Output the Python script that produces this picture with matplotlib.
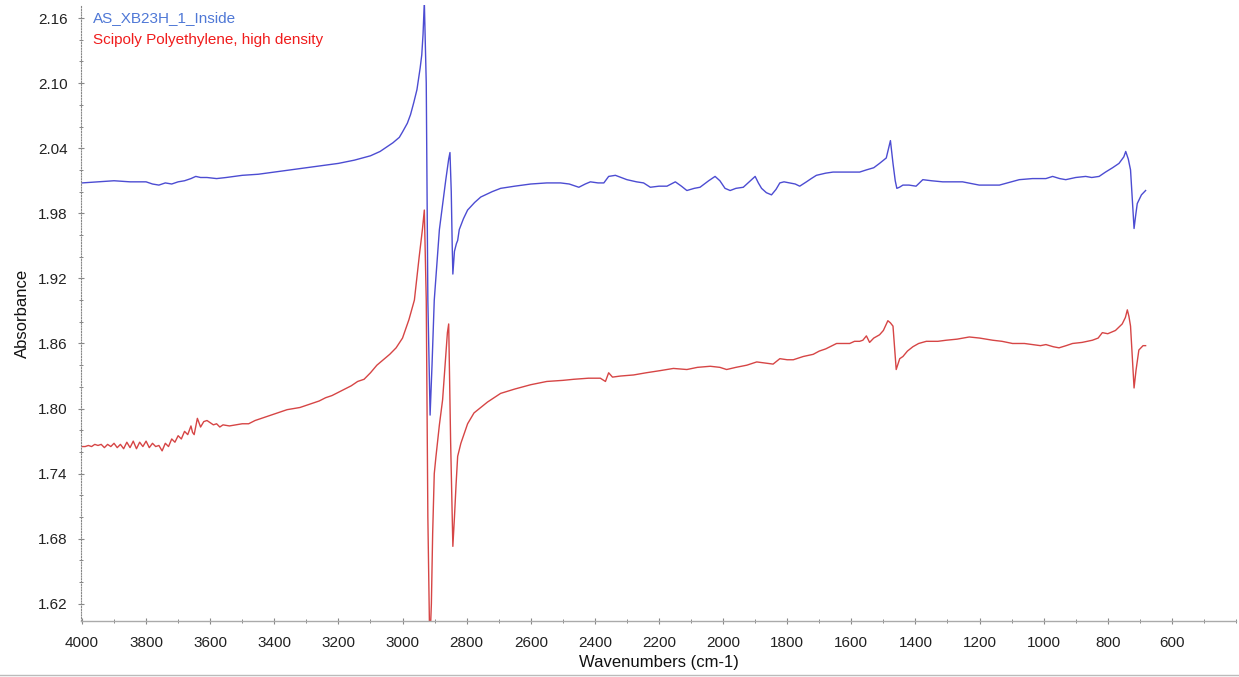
import numpy as np
import matplotlib
matplotlib.use("Agg")
import matplotlib.pyplot as plt
from matplotlib.ticker import MultipleLocator, FixedLocator

plt.rcParams['font.family'] = ['Liberation Sans', 'DejaVu Sans']

# ---------------- data ----------------
series_names = ["AS_XB23H_1_Inside", "Scipoly Polyethylene, high density"]

blue_wn = [4000, 3950, 3900, 3850, 3800, 3780, 3760, 3740, 3720, 3700, 3680, 3660, 3645, 3630,
           3610, 3580, 3550, 3500, 3450, 3400, 3350, 3300, 3250, 3200, 3150, 3100, 3070, 3050,
           3030, 3010, 3000, 2985, 2975, 2965, 2955, 2945, 2940, 2936, 2932, 2926, 2921, 2914,
           2908, 2901, 2885, 2865, 2856, 2852, 2848, 2845, 2843, 2838, 2832, 2828, 2823, 2810,
           2797, 2775, 2756, 2720, 2694, 2650, 2600, 2550, 2507, 2480, 2450, 2430, 2414, 2390,
           2372, 2357, 2336, 2300, 2270, 2248, 2227, 2200, 2175, 2149, 2130, 2113, 2090, 2072,
           2045, 2025, 2010, 1994, 1978, 1960, 1937, 1915, 1900, 1890, 1880, 1865, 1849, 1835,
           1823, 1810, 1792, 1775, 1761, 1740, 1725, 1709, 1680, 1657, 1630, 1595, 1574, 1553,
           1530, 1512, 1491, 1478, 1470, 1463, 1458, 1450, 1439, 1420, 1398, 1377, 1350, 1315,
           1253, 1201, 1170, 1138, 1100, 1076, 1035, 993, 972, 950, 931, 900, 869, 850, 827,
           807, 785, 765, 750, 744, 736, 729, 724, 718, 713, 708, 695, 682]
blue_abs = [2.008, 2.009, 2.010, 2.009, 2.009, 2.007, 2.006, 2.008, 2.007, 2.009, 2.010, 2.012,
            2.014, 2.013, 2.013, 2.012, 2.013, 2.015, 2.016, 2.018, 2.020, 2.022, 2.024, 2.026,
            2.029, 2.033, 2.037, 2.041, 2.045, 2.050, 2.055, 2.063, 2.071, 2.082, 2.094, 2.114,
            2.126, 2.145, 2.175, 2.100, 1.900, 1.794, 1.840, 1.900, 1.965, 2.011, 2.030, 2.036,
            2.000, 1.950, 1.924, 1.945, 1.952, 1.955, 1.965, 1.975, 1.983, 1.990, 1.995, 2.000,
            2.003, 2.005, 2.007, 2.008, 2.008, 2.007, 2.004, 2.007, 2.009, 2.008, 2.008, 2.014,
            2.015, 2.011, 2.009, 2.008, 2.004, 2.005, 2.005, 2.009, 2.005, 2.001, 2.003, 2.004,
            2.010, 2.014, 2.010, 2.003, 2.001, 2.003, 2.004, 2.010, 2.014, 2.008, 2.003, 1.999,
            1.997, 2.002, 2.008, 2.009, 2.008, 2.007, 2.005, 2.009, 2.012, 2.015, 2.017, 2.018,
            2.018, 2.018, 2.018, 2.020, 2.022, 2.026, 2.031, 2.047, 2.026, 2.010, 2.003, 2.004,
            2.006, 2.006, 2.005, 2.011, 2.010, 2.009, 2.009, 2.006, 2.006, 2.006, 2.009, 2.011,
            2.012, 2.012, 2.014, 2.012, 2.011, 2.013, 2.014, 2.013, 2.014, 2.018, 2.022, 2.026,
            2.032, 2.037, 2.030, 2.020, 1.995, 1.966, 1.978, 1.989, 1.997, 2.001]

red_wn = [4000, 3990, 3980, 3970, 3960, 3950, 3940, 3930, 3920, 3910, 3900, 3890, 3880, 3870,
          3860, 3850, 3840, 3830, 3820, 3810, 3800, 3790, 3780, 3770, 3760, 3750, 3740, 3730,
          3720, 3710, 3700, 3690, 3680, 3670, 3660, 3655, 3650, 3640, 3630, 3620, 3610, 3600,
          3590, 3580, 3570, 3560, 3540, 3520, 3500, 3480, 3460, 3440, 3420, 3400, 3380, 3360,
          3340, 3320, 3300, 3280, 3260, 3240, 3220, 3200, 3180, 3160, 3140, 3120, 3100, 3080,
          3060, 3040, 3020, 3000, 2980, 2963, 2948, 2938, 2932, 2926, 2921, 2915, 2910, 2906,
          2901, 2896, 2885, 2875, 2860, 2856, 2850, 2843, 2838, 2833, 2828, 2818, 2797, 2777,
          2735, 2694, 2650, 2600, 2550, 2500, 2466, 2420, 2383, 2367, 2357, 2345, 2320, 2279,
          2240, 2196, 2155, 2113, 2080, 2040, 2010, 1989, 1960, 1926, 1895, 1870, 1844, 1823,
          1800, 1781, 1750, 1719, 1700, 1680, 1660, 1646, 1625, 1605, 1590, 1574, 1564, 1553,
          1543, 1530, 1512, 1500, 1486, 1478, 1470, 1460, 1449, 1439, 1425, 1408, 1390, 1366,
          1330, 1304, 1270, 1232, 1200, 1159, 1130, 1097, 1060, 1035, 1010, 993, 970, 952, 930,
          910, 880, 848, 830, 817, 800, 776, 755, 745, 739, 734, 729, 724, 718, 712, 703, 690, 682]
red_abs = [1.765, 1.765, 1.766, 1.765, 1.767, 1.766, 1.767, 1.764, 1.767, 1.765, 1.768, 1.764,
           1.767, 1.763, 1.769, 1.764, 1.770, 1.763, 1.769, 1.765, 1.770, 1.764, 1.768, 1.765,
           1.766, 1.761, 1.768, 1.765, 1.772, 1.769, 1.775, 1.772, 1.779, 1.776, 1.784, 1.778,
           1.776, 1.791, 1.783, 1.788, 1.789, 1.787, 1.785, 1.786, 1.783, 1.785, 1.784, 1.785,
           1.786, 1.786, 1.789, 1.791, 1.793, 1.795, 1.797, 1.799, 1.800, 1.801, 1.803, 1.805,
           1.807, 1.810, 1.812, 1.815, 1.818, 1.821, 1.825, 1.827, 1.833, 1.840, 1.845, 1.850,
           1.856, 1.865, 1.882, 1.900, 1.940, 1.965, 1.983, 1.900, 1.700, 1.580, 1.620, 1.685,
           1.740, 1.755, 1.785, 1.808, 1.870, 1.878, 1.770, 1.673, 1.700, 1.730, 1.756, 1.768,
           1.786, 1.796, 1.806, 1.814, 1.818, 1.822, 1.825, 1.826, 1.827, 1.828, 1.828, 1.825,
           1.833, 1.829, 1.830, 1.831, 1.833, 1.835, 1.837, 1.836, 1.838, 1.839, 1.838, 1.836,
           1.838, 1.840, 1.843, 1.842, 1.841, 1.846, 1.845, 1.845, 1.848, 1.850, 1.853, 1.855,
           1.858, 1.860, 1.860, 1.860, 1.862, 1.862, 1.863, 1.867, 1.861, 1.865, 1.868, 1.872,
           1.881, 1.879, 1.876, 1.836, 1.846, 1.848, 1.853, 1.857, 1.860, 1.862, 1.862, 1.863,
           1.864, 1.866, 1.865, 1.863, 1.862, 1.860, 1.860, 1.859, 1.858, 1.859, 1.857, 1.856,
           1.858, 1.860, 1.861, 1.863, 1.865, 1.870, 1.869, 1.872, 1.878, 1.884, 1.891, 1.885,
           1.876, 1.850, 1.819, 1.835, 1.854, 1.858, 1.858]

y_ticks = [1.62, 1.68, 1.74, 1.80, 1.86, 1.92, 1.98, 2.04, 2.10, 2.16]
x_ticks = [4000, 3800, 3600, 3400, 3200, 3000, 2800, 2600, 2400, 2200, 2000,
           1800, 1600, 1400, 1200, 1000, 800, 600]

# ---------------- figure ----------------
fig = plt.figure(figsize=(12.39, 6.77), dpi=100)
ax = fig.add_axes([81/1239, 56/677, (1236-81)/1239, (621-5)/677])

line_blue = "#4c4cd2"
line_red = "#d64545"
ax.plot(blue_wn, blue_abs, color=line_blue, lw=1.0, clip_on=True)
ax.plot(red_wn, red_abs, color=line_red, lw=1.0, clip_on=True)

ax.set_xlim(4003, 400)
ax.set_ylim(1.6042, 2.172)

ax.yaxis.set_major_locator(FixedLocator(y_ticks))
ax.yaxis.set_minor_locator(MultipleLocator(0.02))
ax.xaxis.set_major_locator(FixedLocator(x_ticks))
ax.xaxis.set_minor_locator(MultipleLocator(100))
ax.set_yticklabels([f"{v:.2f}" for v in y_ticks])
ax.set_xticklabels([str(v) for v in x_ticks])

for s in ["top", "right"]:
    ax.spines[s].set_visible(False)
ax.spines["left"].set_color("#888888")
ax.spines["left"].set_linestyle((0, (1, 1.5)))
ax.spines["left"].set_linewidth(0.8)
ax.spines["bottom"].set_color("#aaaaaa")
ax.spines["bottom"].set_linewidth(1.0)

ax.tick_params(axis="both", which="both", direction="inout", colors="#888888",
               labelcolor="#222222", labelsize=11)
ax.tick_params(axis="both", which="major", length=5, width=0.8)
ax.tick_params(axis="both", which="minor", length=3, width=0.7)
ax.tick_params(axis="y", which="major", pad=7)
ax.tick_params(axis="x", which="major", pad=8)

ax.set_xlabel("Wavenumbers (cm-1)", fontsize=12, color="#111111", labelpad=4)
ax.set_ylabel("Absorbance", fontsize=12, color="#111111", labelpad=6)

ax.text(0.010, 0.979, series_names[0], transform=ax.transAxes, color="#4f78d6",
        fontsize=11, va="center", ha="left")
ax.text(0.010, 0.943, series_names[1], transform=ax.transAxes, color="#f01c1c",
        fontsize=11, va="center", ha="left")

# thin frame line at the bottom of the screenshot
fig.add_artist(plt.Line2D([0, 1], [2/677, 2/677], color="#bbbbbb", lw=1.0,
                          transform=fig.transFigure))

fig.savefig("out.png", dpi=100, facecolor="white")
